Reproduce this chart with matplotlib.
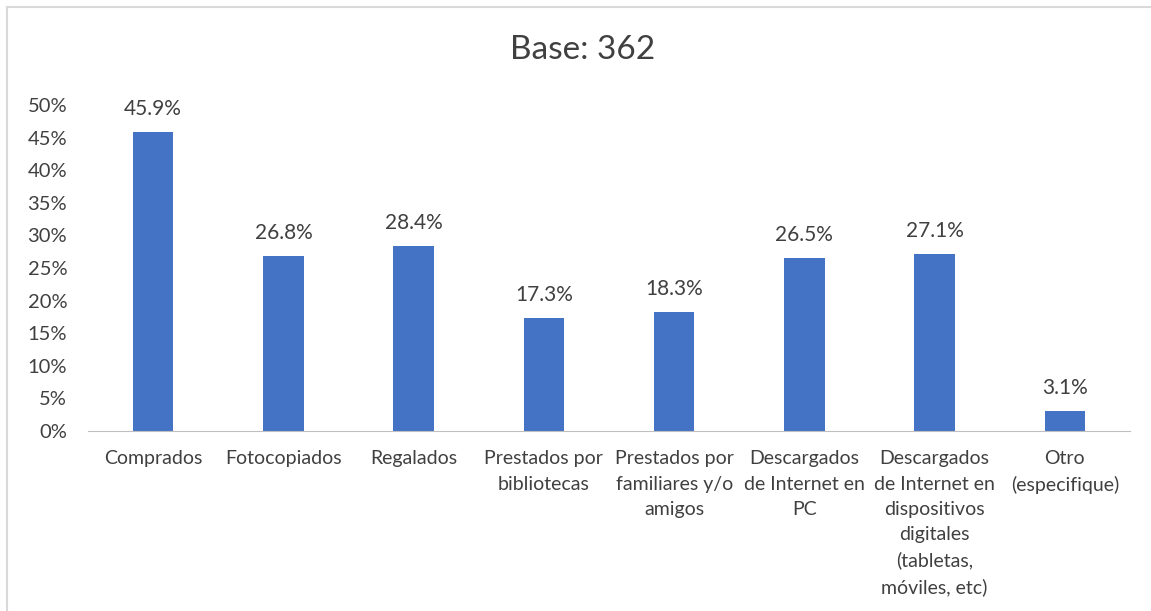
import matplotlib.pyplot as plt
from matplotlib.lines import Line2D
from matplotlib.ticker import FuncFormatter

categories = [
    "Comprados",
    "Fotocopiados",
    "Regalados",
    "Prestados por\nbibliotecas",
    "Prestados por\nfamiliares y/o\namigos",
    "Descargados\nde Internet en\nPC",
    "Descargados\nde Internet en\ndispositivos\ndigitales\n(tabletas,\nmóviles, etc)",
    "Otro\n(especifique)",
]
values = [45.9, 26.8, 28.4, 17.3, 18.3, 26.5, 27.1, 3.1]
title = "Base: 362"

W, H = 1151, 611
BAR = "#4472c4"
TXT = "#404040"
plt.rcParams["font.family"] = ["Lato", "DejaVu Sans"]

fig = plt.figure(figsize=(W / 100, H / 100), dpi=100)
ax = fig.add_axes([88 / W, 1 - 431 / H, (1130 - 88) / W, (431 - 105) / H])

x = range(len(categories))
ax.bar(x, values, width=0.31, color=BAR, zorder=2)
for i, v in zip(x, values):
    ax.text(i, v + 2.0, f"{v:.1f}%", ha="center", va="bottom", fontsize=15, color=TXT)

ax.set_xlim(-0.5, len(categories) - 0.5)
ax.set_ylim(0, 50)
ax.set_yticks(range(0, 51, 5))
ax.yaxis.set_major_formatter(FuncFormatter(lambda v, p: f"{int(v)}%"))
ax.set_xticks(list(x))
ax.set_xticklabels(categories, fontsize=14, color=TXT, linespacing=1.58)
ax.tick_params(axis="y", labelsize=14.5, labelcolor=TXT, length=0, pad=15)
ax.tick_params(axis="x", length=0, pad=14)
for s in ["top", "right", "left"]:
    ax.spines[s].set_visible(False)
ax.spines["bottom"].set_color("#bfbfbf")

fig.text(583 / W, 1 - 50 / H, title, ha="center", va="center", fontsize=24, color=TXT)

# chart area border (only left and top edges show)
bx, by = 6.5 / W, 1 - 6.5 / H
fig.add_artist(Line2D([bx, bx], [0, by], transform=fig.transFigure, color="#d9d9d9", lw=1.5))
fig.add_artist(Line2D([bx, 1], [by, by], transform=fig.transFigure, color="#d9d9d9", lw=1.5))

fig.savefig("out.png", dpi=100)
